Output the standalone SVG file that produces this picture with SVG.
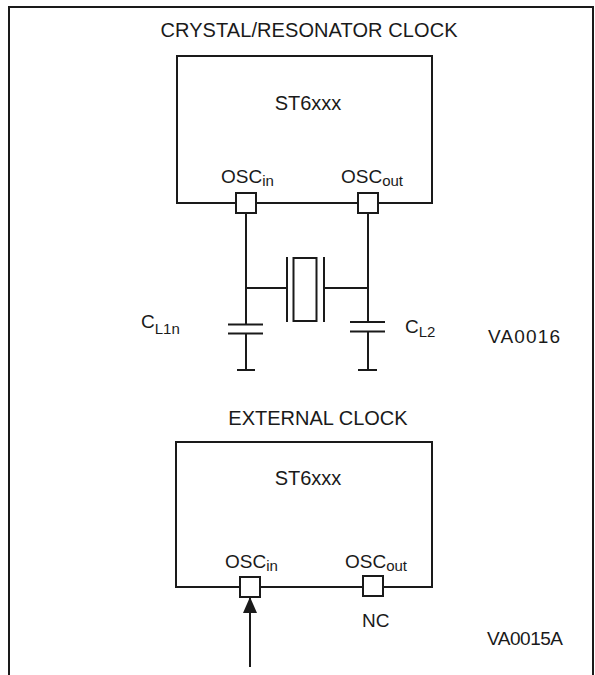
<svg xmlns="http://www.w3.org/2000/svg" width="595" height="675" viewBox="0 0 595 675">
<style>
.ln{stroke:#1a1a1a;stroke-width:2;fill:none}
.pin{stroke:#1a1a1a;stroke-width:2;fill:#fff}
.t{font-family:"Liberation Sans",Arial,sans-serif;fill:#1a1a1a}
.big{font-size:20px}
.lab{font-size:19px}
.sub{font-size:15px}
</style>
<defs>
<marker id="ah" markerWidth="16" markerHeight="14" refX="16" refY="7" orient="auto" markerUnits="userSpaceOnUse">
<path d="M0,0 L16,7 L0,14 Z" fill="#1a1a1a"/>
</marker>
</defs>
<rect width="595" height="675" fill="#fff"/>
<path class="ln" d="M9,675 V7 H593 V675"/>

<g id="crystal-title"><text class="t big" x="309" y="37" text-anchor="middle" textLength="297" lengthAdjust="spacing">CRYSTAL/RESONATOR CLOCK</text></g>

<g id="chip1">
<rect class="ln" x="177" y="56" width="255" height="147"/>
<text class="t big" x="308" y="110" text-anchor="middle">ST6xxx</text>
</g>
<g id="osc-in-1">
<rect class="pin" x="236" y="193" width="20" height="20"/>
<text class="t lab" x="221" y="183">OSC<tspan class="sub" dy="3">in</tspan></text>
</g>
<g id="osc-out-1">
<rect class="pin" x="358" y="193" width="20" height="20"/>
<text class="t lab" x="341" y="183">OSC<tspan class="sub" dy="3">out</tspan></text>
</g>

<g id="connectors1">
<path class="ln" d="M246,213 V324 M246,333 V370 M237,370 H255"/>
<path class="ln" d="M368,213 V322 M368,331 V370 M358,370 H377"/>
<path class="ln" d="M246,288 H287 M324,288 H368"/>
</g>
<g id="crystal">
<path class="ln" d="M287,257 V322 M324,257 V322"/>
<rect class="ln" x="293.5" y="258" width="23" height="63"/>
</g>
<g id="cl1">
<path class="ln" d="M228,324.5 H263 M228,333.5 H263"/>
<text class="t lab" x="141" y="328">C<tspan class="sub" dy="6">L1n</tspan></text>
</g>
<g id="cl2">
<path class="ln" d="M350,322 H385 M350,331.5 H385"/>
<text class="t lab" x="405" y="333">C<tspan class="sub" dy="4">L2</tspan></text>
</g>
<g id="va0016"><text class="t lab" x="488" y="343" textLength="72" lengthAdjust="spacing">VA0016</text></g>

<g id="external-title"><text class="t big" x="318" y="425" text-anchor="middle">EXTERNAL CLOCK</text></g>
<g id="chip2">
<rect class="ln" x="176" y="442" width="256" height="145"/>
<text class="t big" x="308" y="485" text-anchor="middle">ST6xxx</text>
</g>
<g id="osc-in-2">
<rect class="pin" x="240" y="577" width="20" height="20"/>
<text class="t lab" x="225" y="568">OSC<tspan class="sub" dy="3">in</tspan></text>
</g>
<g id="osc-out-2">
<rect class="pin" x="363" y="576" width="20" height="20"/>
<text class="t lab" x="345" y="568">OSC<tspan class="sub" dy="3">out</tspan></text>
<text class="t lab" x="362" y="627">NC</text>
</g>
<g id="connectors2">
<path class="ln" d="M250,667 V597" marker-end="url(#ah)"/>
</g>
<g id="va0015a"><text class="t lab" x="487" y="645" textLength="76" lengthAdjust="spacing">VA0015A</text></g>
</svg>
